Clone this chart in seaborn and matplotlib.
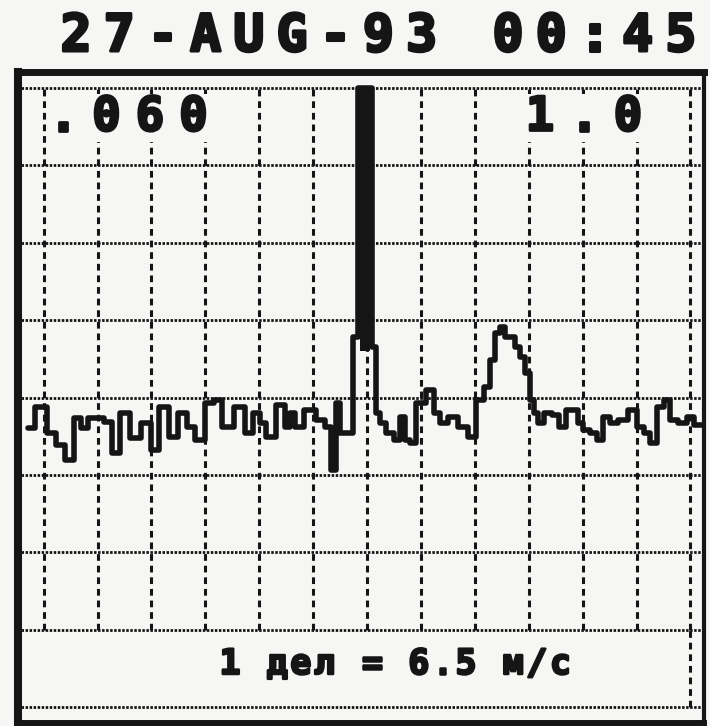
import numpy as np
import matplotlib
matplotlib.use("Agg")
import matplotlib.pyplot as plt
import matplotlib.patheffects as pe
import seaborn as sns

# Doppler spectrum printout, 27-AUG-93 00:45
title = "27-AUG-93 00:45"
label_left = ".060"
label_right = "1.0"
scale_note = "1 дел = 6.5 м/с"
div_ms = 6.5          # m/s per horizontal division
clip_level = 8.0      # top of the screen, in vertical divisions

# radial velocity, m/s
velocity = [
    -40.9, -39.1, -38.0, -37.0, -35.8, -34.9, -34.0, -33.2, -32.2, -31.2,
    -30.4, -29.2, -28.0, -26.4, -25.8, -24.4, -23.4, -22.2, -21.3, -20.1,
    -18.9, -18.0, -16.9, -15.3, -14.1, -13.3, -12.5, -11.9, -10.1, -9.6,
    -9.0, -8.4, -6.9, -5.4, -4.7, -3.9, -3.5, -2.9, -2.1, -1.4,
    -0.8, -0.2, 0.4, 0.9, 1.3, 1.9, 2.8, 3.6, 4.3, 4.8,
    5.5, 6.4, 7.8, 8.4, 9.2, 10.4, 11.6, 12.8, 13.6, 14.5,
    15.1, 15.7, 16.3, 16.9, 17.6, 18.2, 18.8, 19.4, 19.9, 20.3,
    20.9, 21.7, 22.9, 23.5, 24.5, 25.1, 25.7, 26.5, 27.3, 28.1,
    28.9, 29.7, 30.9, 32.1, 32.9, 33.8, 34.5, 35.4, 36.2, 36.9,
    38.1, 39.0, 39.8, 40.4,
]
# spectral amplitude, in vertical divisions
amplitude = [
    3.60, 3.88, 3.54, 3.39, 3.19, 3.73, 3.60, 3.73, 3.73, 3.68,
    3.28, 3.80, 3.48, 3.67, 3.32, 3.88, 3.49, 3.80, 3.62, 3.45,
    3.93, 3.97, 3.62, 3.88, 3.54, 3.80, 3.67, 3.49, 3.90, 3.62,
    3.80, 3.62, 3.84, 3.71, 3.62, 3.06, 3.93, 3.54, 3.54, 4.78,
    8.00, 8.00, 8.00, 4.65, 3.80, 3.67, 3.54, 3.45, 3.75, 3.45,
    3.41, 3.93, 4.10, 3.80, 3.67, 3.75, 3.62, 3.49, 3.97, 4.13,
    4.48, 4.83, 4.91, 4.78, 4.78, 4.65, 4.52, 4.32, 3.97, 3.80,
    3.67, 3.80, 3.77, 3.62, 3.84, 3.84, 3.67, 3.58, 3.54, 3.45,
    3.75, 3.67, 3.71, 3.84, 3.62, 3.54, 3.41, 3.88, 3.97, 3.71,
    3.67, 3.75, 3.64, 3.64,
]

W, H = 710, 726
ink = "#151515"
paper = "#f6f6f4"

sns.set_style("white")
plt.rcParams["font.family"] = ["DejaVu Sans Mono", "DejaVu Sans"]

fig = plt.figure(figsize=(W / 100, H / 100), dpi=100, facecolor=paper)
ax = fig.add_axes([18 / W, (H - 723) / H, (704 - 18) / W, (723 - 72) / H])
ax.set_facecolor(paper)

vel = np.array(velocity)
amp = np.array(amplitude)

# screen graticule: 12 x 8 divisions, verticals stop above the caption band
grid_v = np.arange(-6, 7) * div_ms
grid_h = np.arange(0, 9)
ax.vlines(grid_v, 1, 8, colors=ink, lw=2.2, linestyles=(0, (2.2, 1.6)), zorder=1)
ax.vlines(grid_v[-1], 0, 1, colors=ink, lw=2.2, linestyles=(0, (2.2, 1.6)), zorder=1)
ax.hlines(grid_h, grid_v[0] - 3.2, grid_v[-1] + 1.5, colors=ink, lw=2.0,
          linestyles=(0, (0.9, 0.55)), zorder=1)

# spectrum trace
sns.lineplot(x=vel, y=amp, ax=ax, color=ink, lw=4.0, drawstyle="steps-mid",
             estimator=None, sort=False, zorder=3)
ax.fill_between(vel, 4.6, amp, where=amp >= clip_level, step="mid",
                color=ink, lw=0, zorder=3)

ax.set_xlim(-42.09, 40.64)
ax.set_ylim(-0.207, 8.207)
ax.set_xticks([])
ax.set_yticks([])
ax.set_xlabel("")
ax.set_ylabel("")
for side, w in {"left": 5.8, "top": 5.0, "right": 3.0, "bottom": 4.3}.items():
    ax.spines[side].set_visible(True)
    ax.spines[side].set_color(ink)
    ax.spines[side].set_linewidth(w)


def mono_text(s, x0, y, pitch, size, box=False, stroke=1.6):
    # place characters one by one to get the printer's wide pitch
    for i, ch in enumerate(s):
        if ch == " ":
            continue
        kw = {}
        if box:
            kw["bbox"] = dict(facecolor=paper, edgecolor="none", pad=1.5)
        t = fig.text((x0 + i * pitch) / W, 1 - y / H, ch, ha="center", va="center",
                     fontsize=size, fontweight="bold", color=ink, zorder=5, **kw)
        t.set_path_effects([pe.withStroke(linewidth=stroke, foreground=ink)])


mono_text(title, 76, 37, 43.2, 37, stroke=2.2)
mono_text(label_left, 63, 118, 43.5, 34, box=True, stroke=2.0)
mono_text(label_right, 540, 118, 44, 34, box=True, stroke=2.0)
mono_text(scale_note, 230, 664, 23.6, 25, stroke=1.8)

fig.savefig("out.png", dpi=100, facecolor=paper)
